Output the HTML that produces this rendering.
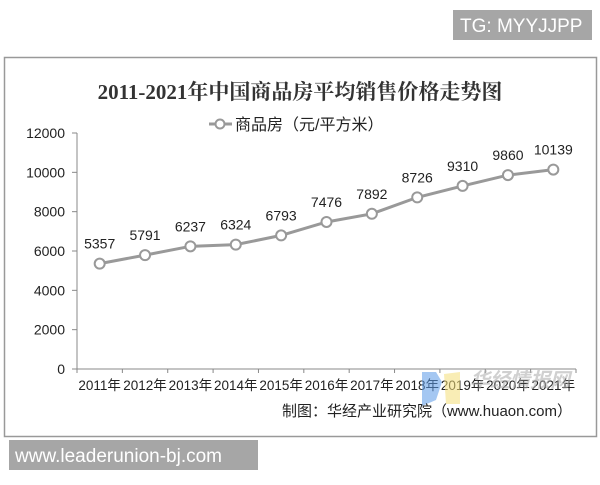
<!DOCTYPE html>
<html><head><meta charset="utf-8"><style>
body{margin:0;width:600px;height:480px;background:#fff;overflow:hidden;font-family:"Liberation Sans","Noto Sans CJK SC",sans-serif}
</style></head><body>
<svg width="600" height="480" xmlns="http://www.w3.org/2000/svg">
<rect x="453" y="10" width="139" height="30" fill="#a6a6a6"/>
<text x="460" y="32" font-size="19" fill="#fff" font-family="Liberation Sans, sans-serif">TG: MYYJJPP</text>
<rect x="4.5" y="57.5" width="592" height="379" fill="#fff" stroke="#999" stroke-width="1.5"/>
<text x="300" y="99" text-anchor="middle" font-size="21" font-weight="bold" fill="#333" font-family="Liberation Serif, Noto Serif CJK SC, serif">2011-2021年中国商品房平均销售价格走势图</text>
<g>
<line x1="209" y1="124" x2="232" y2="124" stroke="#999" stroke-width="3"/>
<circle cx="220" cy="124" r="4.5" fill="#fff" stroke="#999" stroke-width="2"/>
<text x="235" y="130" font-size="16" fill="#222">商品房（元/平方米）</text>
</g>
<g id="yaxis"></g>
<g id="xaxis"></g>
<g id="series"></g>
<g opacity="0.55">
<path d="M422 372 L436 372 L442 382 L436 400 L422 406 Z" fill="#5b9be8"/>
<path d="M444 374 L460 372 L460 404 L446 404 Z" fill="#f5e07a"/>
<text x="470" y="387" font-size="20" font-style="italic" font-weight="bold" fill="#aaa">华经情报网</text>
</g>
<text x="572" y="416" text-anchor="end" font-size="15" fill="#222">制图：华经产业研究院（www.huaon.com）</text>
<rect x="9" y="440" width="249" height="30" fill="#a6a6a6"/>
<text x="15" y="462" font-size="19" fill="#fff">www.leaderunion-bj.com</text>
</svg>
<script>
const categories=["2011年","2012年","2013年","2014年","2015年","2016年","2017年","2018年","2019年","2020年","2021年"];
const values=[5357,5791,6237,6324,6793,7476,7892,8726,9310,9860,10139];
const yTicks=[0,2000,4000,6000,8000,10000,12000];
const NS="http://www.w3.org/2000/svg";
const x0=77,x1=576,y0=369,y1=133,yMax=12000;
const bw=(x1-x0)/categories.length;
const xs=i=>x0+bw*(i+0.5);
const ys=v=>y0-(v/yMax)*(y0-y1);
function mk(t,a,p){const e=document.createElementNS(NS,t);for(const k in a)e.setAttribute(k,a[k]);p.appendChild(e);return e;}
const ya=document.getElementById('yaxis'),xa=document.getElementById('xaxis'),se=document.getElementById('series');
mk('line',{x1:x0,y1:y1,x2:x0,y2:y0,stroke:'#888','stroke-width':1},ya);
yTicks.forEach(v=>{
 mk('line',{x1:x0-5,y1:ys(v),x2:x0,y2:ys(v),stroke:'#888'},ya);
 const t=mk('text',{x:x0-12,y:ys(v)+5,'text-anchor':'end','font-size':14,fill:'#222'},ya);
 
 
 t.textContent=v;
});
mk('line',{x1:x0,y1:y0,x2:x1,y2:y0,stroke:'#888'},xa);
categories.forEach((c,i)=>{
 mk('line',{x1:x0+bw*i,y1:y0,x2:x0+bw*i,y2:y0+4,stroke:'#888'},xa);
 const t=mk('text',{x:xs(i),y:y0+21,'text-anchor':'middle','font-size':13.5,fill:'#222'},xa);
 
 
 t.textContent=c;
});
mk('line',{x1:x1,y1:y0,x2:x1,y2:y0+4,stroke:'#888'},xa);
mk('polyline',{points:values.map((v,i)=>xs(i)+','+ys(v)).join(' '),fill:'none',stroke:'#999','stroke-width':3},se);
values.forEach((v,i)=>{
 const c=mk('circle',{cx:xs(i),cy:ys(v),r:5,fill:'#fff',stroke:'#999','stroke-width':2},se);
 
 
 const t=mk('text',{x:xs(i),y:ys(v)-15,'text-anchor':'middle','font-size':14,fill:'#222'},se);
 
 
 t.textContent=v;
});
</script>
</body></html>
